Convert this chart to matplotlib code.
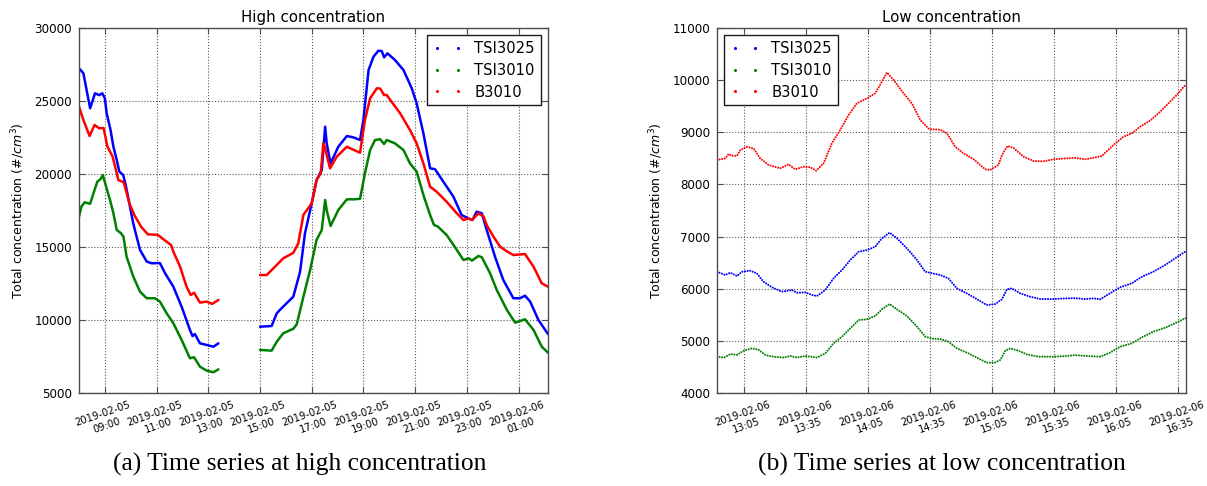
import datetime as dt
import numpy as np
import matplotlib
matplotlib.use("Agg")
import matplotlib.pyplot as plt
import matplotlib.dates as mdates
from matplotlib.lines import Line2D

# ---------------- data: high concentration (hours since 2019-02-05 00:00) ----------------
hi_base = dt.datetime(2019, 2, 5)
NaN = float("nan")

hi_t_tsi3025 = [8.0, 8.17, 8.43, 8.62, 8.78, 8.9, 9.0, 9.07, 9.22, 9.33, 9.46, 9.56, 9.71, 9.82,
                10.1, 10.36, 10.62, 10.81, 11.13, 11.33, 11.65, 11.97, 12.29, 12.39, 12.48, 12.68,
                12.94, 13.2, 13.39, 14.2,
                15.0, 15.45, 15.65, 15.77, 16.03, 16.29, 16.55, 16.74, 17.0, 17.19, 17.39, 17.52,
                17.58, 17.73, 18.03, 18.36, 18.61, 18.87, 19.0, 19.2, 19.39, 19.58, 19.71, 19.8,
                19.93, 20.22, 20.55, 20.87, 21.06, 21.32, 21.58, 21.77, 22.09, 22.48, 22.8, 23.07,
                23.22, 23.38, 23.58, 23.77, 24.09, 24.41, 24.8, 25.06, 25.25, 25.45, 25.77, 26.14]
hi_tsi3025 = [27240, 26900, 24500, 25530, 25400, 25530, 25185, 24160, 23015, 21870, 20960, 20160,
              19930, 19130, 16600, 14800, 14000, 13885, 13900, 13200, 12280, 10910, 9320, 8900,
              9040, 8400, 8290, 8170, 8400, NaN,
              9540, 9590, 10460, 10690, 11145, 11600, 13300, 15935, 17990, 19590, 20275, 23240,
              22100, 20730, 21870, 22600, 22510, 22330, 23700, 27120, 28035, 28445, 28420, 27990,
              28265, 27810, 27120, 25870, 24840, 22790, 20390, 20330, 19480, 18450, 17190, 16950,
              16850, 17420, 17310, 16165, 14340, 12740, 11490, 11490, 11665, 11260, 10000, 9040]

hi_t_tsi3010 = [8.0, 8.09, 8.22, 8.43, 8.6, 8.71, 8.84, 8.92, 9.05, 9.2, 9.33, 9.46, 9.62, 9.72,
                9.84, 10.1, 10.36, 10.62, 10.94, 11.13, 11.39, 11.65, 11.97, 12.29, 12.45, 12.68,
                12.94, 13.2, 13.39, 14.2,
                15.0, 15.45, 15.65, 15.9, 16.29, 16.42, 16.68, 16.94, 17.19, 17.39, 17.52, 17.58,
                17.73, 18.03, 18.36, 18.61, 18.87, 19.06, 19.26, 19.45, 19.65, 19.8, 19.9, 20.22,
                20.55, 20.8, 21.06, 21.32, 21.58, 21.73, 21.88, 22.22, 22.48, 22.87, 23.07, 23.2,
                23.45, 23.58, 23.9, 24.16, 24.55, 24.87, 25.25, 25.58, 25.9, 26.14]
hi_tsi3010 = [17080, 17760, 18060, 17960, 18900, 19480, 19660, 19930, 19130, 18220, 17310, 16165,
              15950, 15700, 14340, 12970, 11940, 11490, 11490, 11260, 10460, 9775, 8630, 7380,
              7450, 6800, 6530, 6420, 6620, NaN,
              7950, 7900, 8515, 9090, 9400, 9700, 11600, 13425, 15500, 16165, 18220, 17530,
              16440, 17535, 18265, 18265, 18300, 20045, 21640, 22330, 22380, 22055, 22330, 22100,
              21640, 20730, 20160, 18565, 17190, 16510, 16400, 15820, 15150, 14110, 14230, 14070,
              14385, 14300, 13200, 12050, 10690, 9815, 10050, 9320, 8170, 7760]

hi_t_b3010 = [8.0, 8.17, 8.41, 8.6, 8.78, 8.95, 9.1, 9.3, 9.43, 9.52, 9.73, 9.95, 10.14, 10.4,
              10.66, 11.05, 11.3, 11.56, 11.65, 11.91, 12.16, 12.32, 12.45, 12.68, 12.94, 13.15,
              13.39, 14.2,
              15.0, 15.26, 15.52, 15.9, 16.29, 16.48, 16.68, 17.0, 17.19, 17.35, 17.45, 17.5,
              17.71, 17.97, 18.36, 18.61, 18.87, 19.06, 19.26, 19.52, 19.65, 19.8, 19.9, 20.09,
              20.42, 20.8, 21.06, 21.32, 21.58, 21.83, 22.22, 22.61, 22.87, 23.07, 23.2, 23.45,
              23.65, 23.77, 24.03, 24.29, 24.55, 24.8, 25.25, 25.58, 25.9, 26.14]
hi_b3010 = [24610, 23700, 22600, 23360, 23130, 23150, 21870, 21190, 20275, 19590, 19430, 17990,
            17190, 16390, 15870, 15830, 15480, 15140, 14680, 13650, 12280, 11710, 11870, 11190,
            11260, 11100, 11370, NaN,
            13080, 13080, 13540, 14225, 14600, 15250, 17200, 17990, 19590, 20045, 22100, 21870,
            20390, 21190, 21870, 21660, 21460, 23700, 25185, 25870, 25850, 25410, 25410, 24950,
            24160, 23015, 22100, 20730, 19130, 18790, 18100, 17310, 16850, 16950, 16850, 17310,
            17080, 16500, 15710, 15020, 14700, 14450, 14520, 13650, 12510, 12280]

# ---------------- data: low concentration (minutes since 2019-02-06 13:05) ----------------
lo_base = dt.datetime(2019, 2, 6, 13, 5)

lo_t_tsi3025 = [-13.2, -9.2, -6.8, -3.5, -1.1, 2.9, 6.1, 9.3, 13.4, 18.2, 23.1, 25.5, 29.5, 32.8,
                35.2, 39.2, 43.2, 47.3, 51.3, 55.4, 59.4, 63.4, 66.6, 70.3, 73.9, 78.7, 83.6,
                87.6, 91.6, 94.8, 98.8, 102.9, 107.7, 113.3, 117.4, 121.4, 124.7, 127.1, 129.5,
                133.5, 138.4, 143.2, 149.7, 156.1, 160, 165, 169, 172.2, 177, 181.9, 187.6,
                192.4, 198, 203.7, 208.5, 213.8]
lo_tsi3025 = [6326, 6263, 6307, 6243, 6326, 6345, 6295, 6134, 6027, 5943, 5975, 5923, 5930, 5879,
              5860, 5975, 6199, 6358, 6550, 6710, 6742, 6806, 6966, 7074, 6966, 6775, 6550,
              6326, 6290, 6263, 6199, 6007, 5911, 5783, 5687, 5706, 5796, 5988, 6007,
              5911, 5847, 5802, 5802, 5815, 5820, 5800, 5815, 5796, 5911, 6027, 6104,
              6230, 6326, 6454, 6583, 6720]

lo_t_tsi3010 = [-13.2, -9.7, -6.8, -3.5, -0.3, 3.7, 6.9, 10.2, 14.2, 19, 22.3, 25.5, 29.5, 35.2,
                39.2, 43.2, 47.3, 51.3, 55.4, 59.4, 63.4, 66.6, 70.3, 73.9, 78.7, 83.6, 87.6,
                91.6, 94.8, 98.8, 102.9, 108.5, 113.3, 117.4, 121.4, 123.9, 126.3, 128.7, 132.7,
                136.8, 142.4, 149.7, 156.1, 160, 165.6, 172.2, 177, 181.9, 187.6, 192.4, 198,
                203.7, 208.5, 213.8]
lo_tsi3010 = [4696, 4680, 4747, 4730, 4811, 4856, 4830, 4728, 4696, 4680, 4710, 4680, 4710, 4680,
              4760, 4952, 5080, 5240, 5400, 5413, 5477, 5605, 5706, 5605, 5477, 5273, 5080,
              5040, 5035, 4984, 4856, 4760, 4664, 4581, 4585, 4632, 4811, 4856, 4811,
              4740, 4696, 4696, 4710, 4728, 4710, 4696, 4773, 4888, 4952, 5067, 5176,
              5252, 5336, 5440]

lo_t_b3010 = [-13.2, -9.2, -7.6, -6, -3.5, -1.9, 1.3, 4.5, 7.7, 11.8, 17.4, 21.4, 24.7, 28.7,
              31.9, 34.8, 38.4, 42.4, 46.4, 50.5, 54.5, 59.4, 63.4, 66.6, 69.0, 72.3, 77.1,
              81.1, 85.2, 89.5, 94.8, 98.1, 102.1, 106.1, 111, 116.6, 119, 123, 124.7, 127.4,
              130.3, 135.2, 140, 144.8, 149.7, 156.1, 160, 165, 169, 173, 178.7, 183.5, 187.6,
              191.6, 196.4, 200.5, 205.3, 209.3, 213.8]
lo_b3010 = [8468, 8500, 8583, 8550, 8550, 8660, 8723, 8690, 8500, 8372, 8309, 8386, 8290, 8340,
            8330, 8263, 8405, 8789, 9043, 9331, 9556, 9651, 9747, 9970, 10143, 10003, 9747,
            9556, 9235, 9060, 9050, 8980, 8723, 8597, 8482, 8290, 8277, 8372, 8564, 8737,
            8700, 8532, 8449, 8443, 8482, 8500, 8510, 8482, 8510, 8545, 8756, 8915, 8980,
            9107, 9222, 9364, 9556, 9715, 9920]

series_names = ["TSI3025", "TSI3010", "B3010"]
series_colors = ["#0000ff", "#008000", "#ff0000"]

hi_yticks = [5000, 10000, 15000, 20000, 25000, 30000]
lo_yticks = [4000, 5000, 6000, 7000, 8000, 9000, 10000, 11000]


def to_hi(ts):
    return [hi_base + dt.timedelta(hours=h) for h in ts]


def to_lo(ts):
    return [lo_base + dt.timedelta(minutes=m) for m in ts]


plt.rcParams["font.family"] = ["DejaVu Sans"]
plt.rcParams["mathtext.fontset"] = "dejavusans"

fig = plt.figure(figsize=(12.07, 4.86), dpi=100)
axL = fig.add_axes([79 / 1207, 1 - 393 / 486, 469 / 1207, 365 / 486])
axR = fig.add_axes([717 / 1207, 1 - 393 / 486, 469 / 1207, 365 / 486])

hi_sets = [(hi_t_tsi3025, hi_tsi3025), (hi_t_tsi3010, hi_tsi3010), (hi_t_b3010, hi_b3010)]
lo_sets = [(lo_t_tsi3025, lo_tsi3025), (lo_t_tsi3010, lo_tsi3010), (lo_t_b3010, lo_b3010)]

for (t, v), c in zip(hi_sets, series_colors):
    axL.plot(to_hi(t), v, color=c, lw=1.8, solid_capstyle="round", solid_joinstyle="round")
for (t, v), c in zip(lo_sets, series_colors):
    axR.plot(to_lo(t), v, color=c, lw=1.5, linestyle=(0, (0.01, 1.25)),
             dash_capstyle="round")


def style(ax, title, yticks, locator, xlim, legend_loc):
    ax.set_title(title, fontsize=10.8, pad=4)
    ax.set_ylim(yticks[0], yticks[-1])
    ax.set_yticks(yticks)
    ax.set_xlim(xlim)
    ax.xaxis.set_major_locator(locator)
    ax.xaxis.set_major_formatter(mdates.DateFormatter("%Y-%m-%d\n%H:%M"))
    ax.grid(True, color="0.35", linestyle=":", linewidth=0.8)
    ax.tick_params(direction="in", top=True, right=True, length=4, width=0.8,
                   color="0.3")
    ax.tick_params(axis="y", labelsize=8.6, pad=5)
    ax.tick_params(axis="x", labelsize=7.2, pad=5)
    for lab in ax.get_xticklabels():
        lab.set_rotation(19)
        lab.set_ha("center")
        lab.set_multialignment("center")
    for s in ax.spines.values():
        s.set_color("0.3")
        s.set_linewidth(1.0)
    ax.set_ylabel("Total concentration ($\\#/cm^3$)", fontsize=9.0, labelpad=5)
    handles = [Line2D([], [], ls="none", marker="o", ms=2.2, mew=0, color=c)
               for c in series_colors]
    leg = ax.legend(handles, series_names, loc=legend_loc, numpoints=2, fontsize=10.6,
                    fancybox=False, framealpha=1, edgecolor="0.1", labelspacing=0.45,
                    handlelength=2.0, handletextpad=0.8, borderaxespad=0.5)
    leg.get_frame().set_linewidth(1.0)


style(axL, "High concentration", hi_yticks,
      mdates.HourLocator(byhour=range(1, 24, 2)),
      (to_hi([hi_t_tsi3025[0]])[0], to_hi([hi_t_tsi3025[-1]])[0]), "upper right")
style(axR, "Low concentration", lo_yticks,
      mdates.MinuteLocator(byminute=[5, 35]),
      (to_lo([lo_t_tsi3025[0]])[0], to_lo([lo_t_tsi3025[-1]])[0]), "upper left")

fig.text(300 / 1207, 1 - 464 / 486, "(a) Time series at high concentration",
         ha="center", va="center", fontsize=18.4, family=["Liberation Serif", "DejaVu Serif"])
fig.text(942 / 1207, 1 - 464 / 486, "(b) Time series at low concentration",
         ha="center", va="center", fontsize=18.4, family=["Liberation Serif", "DejaVu Serif"])

fig.savefig("out.png", dpi=100)
